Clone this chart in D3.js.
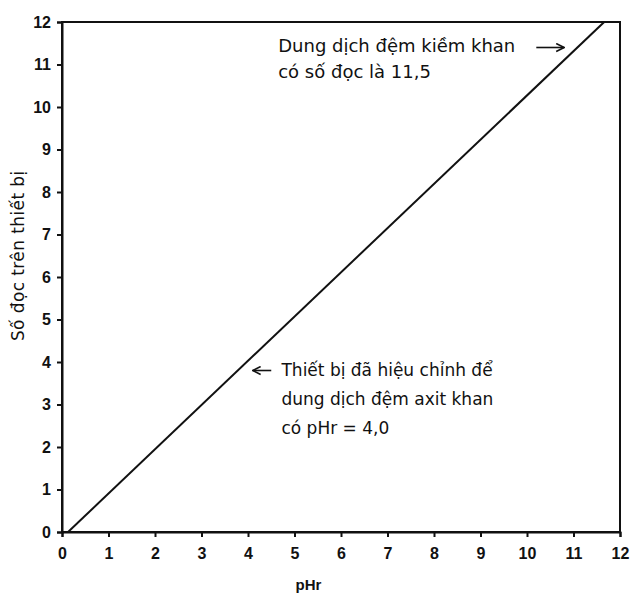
<!DOCTYPE html>
<html>
<head>
<meta charset="utf-8">
<script src="https://cdn.jsdelivr.net/npm/d3@7"></script>
<style>
  body { margin: 0; background: #fff; }
  text { font-family: "Liberation Sans", Arial, sans-serif; }
</style>
</head>
<body>
<div id="chart"></div>
<script>
// calibration line: pHr (x) vs instrument reading (y)
const lineX = [0.13, 11.66];
const lineY = [0, 12];
const xTicks = [0, 1, 2, 3, 4, 5, 6, 7, 8, 9, 10, 11, 12];
const yTicks = [0, 1, 2, 3, 4, 5, 6, 7, 8, 9, 10, 11, 12];
const noteAcid = ["Thiết bị đã hiệu chỉnh để", "dung dịch đệm axit khan", "có pHr = 4,0"];
const noteBase = ["Dung dịch đệm kiềm khan", "có số đọc là 11,5"];

const W = 632, H = 593;
const margin = { top: 22, right: 12, bottom: 61, left: 62 };
const width = W - margin.left - margin.right;
const height = H - margin.top - margin.bottom;
const noteFont = "'DejaVu Sans', 'Liberation Sans', sans-serif";

let svg = d3.select("#chart").append("svg")
    .attr("width", W)
    .attr("height", H);

let g = svg.append("g")
    .attr("transform", "translate(" + margin.left + "," + margin.top + ")");

let x = d3.scaleLinear().domain([0, 12]).range([0, width]);
let y = d3.scaleLinear().domain([0, 12]).range([height, 0]);

// frame
g.append("rect")
    .attr("x", 0).attr("y", 0)
    .attr("width", width).attr("height", height)
    .attr("fill", "none")
    .attr("stroke", "#111")
    .attr("stroke-width", 2);

let xAxis = g.append("g")
    .attr("transform", "translate(0," + height + ")")
    .call(d3.axisBottom(x).tickValues(xTicks).tickSize(5).tickPadding(11).tickFormat(d3.format("d")));

let yAxis = g.append("g")
    .call(d3.axisLeft(y).tickValues(yTicks).tickSize(5).tickPadding(6).tickFormat(d3.format("d")));

[xAxis, yAxis].forEach(a => {
    a.select(".domain").attr("stroke", "#111").attr("stroke-width", 2);
    a.selectAll(".tick line").attr("stroke", "#111").attr("stroke-width", 2);
    a.selectAll(".tick text")
        .attr("fill", "#111")
        .style("font-family", "'Liberation Sans', Arial, sans-serif")
        .style("font-size", "16px")
        .style("font-weight", "bold");
});

// the line
let pts = lineX.map((v, i) => [v, lineY[i]]);
g.append("path")
    .datum(pts)
    .attr("fill", "none")
    .attr("stroke", "#111")
    .attr("stroke-width", 2)
    .attr("d", d3.line().x(d => x(d[0])).y(d => y(d[1])));

// axis titles
svg.append("text")
    .attr("x", margin.left + x(5.3))
    .attr("y", 590)
    .attr("text-anchor", "middle")
    .style("font-size", "15px")
    .style("font-weight", "bold")
    .attr("fill", "#111")
    .text("pHr");

svg.append("text")
    .attr("transform", "translate(24," + (margin.top + y(6.5)) + ") rotate(-90)")
    .attr("text-anchor", "middle")
    .style("font-family", noteFont)
    .style("font-size", "17px")
    .style("letter-spacing", "0.4px")
    .attr("fill", "#111")
    .text("Số đọc trên thiết bị");

// arrow marker
let defs = svg.append("defs");
defs.append("marker")
    .attr("id", "arr")
    .attr("viewBox", "0 0 10 10")
    .attr("refX", 9).attr("refY", 5)
    .attr("markerWidth", 10).attr("markerHeight", 10)
    .attr("markerUnits", "userSpaceOnUse")
    .attr("orient", "auto")
    .append("path")
    .attr("d", "M1,1 L9,5 L1,9")
    .attr("fill", "none")
    .attr("stroke", "#111")
    .attr("stroke-width", 1.6);

// acid note, arrow points at x=4 on the line
g.append("line")
    .attr("x1", x(4.5)).attr("y1", y(3.8))
    .attr("x2", x(4.1)).attr("y2", y(3.8))
    .attr("stroke", "#111").attr("stroke-width", 1.6)
    .attr("marker-end", "url(#arr)");

g.append("text")
    .attr("x", x(4.72))
    .attr("y", y(3.8))
    .style("font-family", noteFont)
    .style("font-size", "17px")
    .attr("fill", "#111")
    .selectAll("tspan")
    .data(noteAcid)
    .enter()
    .append("tspan")
    .attr("x", x(4.72))
    .attr("dy", (d, i) => i === 0 ? "0.35em" : "1.68em")
    .text(d => d);

// base note
g.append("line")
    .attr("x1", x(10.2)).attr("y1", y(11.4))
    .attr("x2", x(10.8)).attr("y2", y(11.4))
    .attr("stroke", "#111").attr("stroke-width", 1.6)
    .attr("marker-end", "url(#arr)");

g.append("text")
    .attr("x", x(4.65))
    .attr("y", y(11.45))
    .style("font-family", noteFont)
    .style("font-size", "18px")
    .attr("fill", "#111")
    .selectAll("tspan")
    .data(noteBase)
    .enter()
    .append("tspan")
    .attr("x", x(4.65))
    .attr("dy", (d, i) => i === 0 ? "0.35em" : "1.45em")
    .text(d => d);
</script>
</body>
</html>
